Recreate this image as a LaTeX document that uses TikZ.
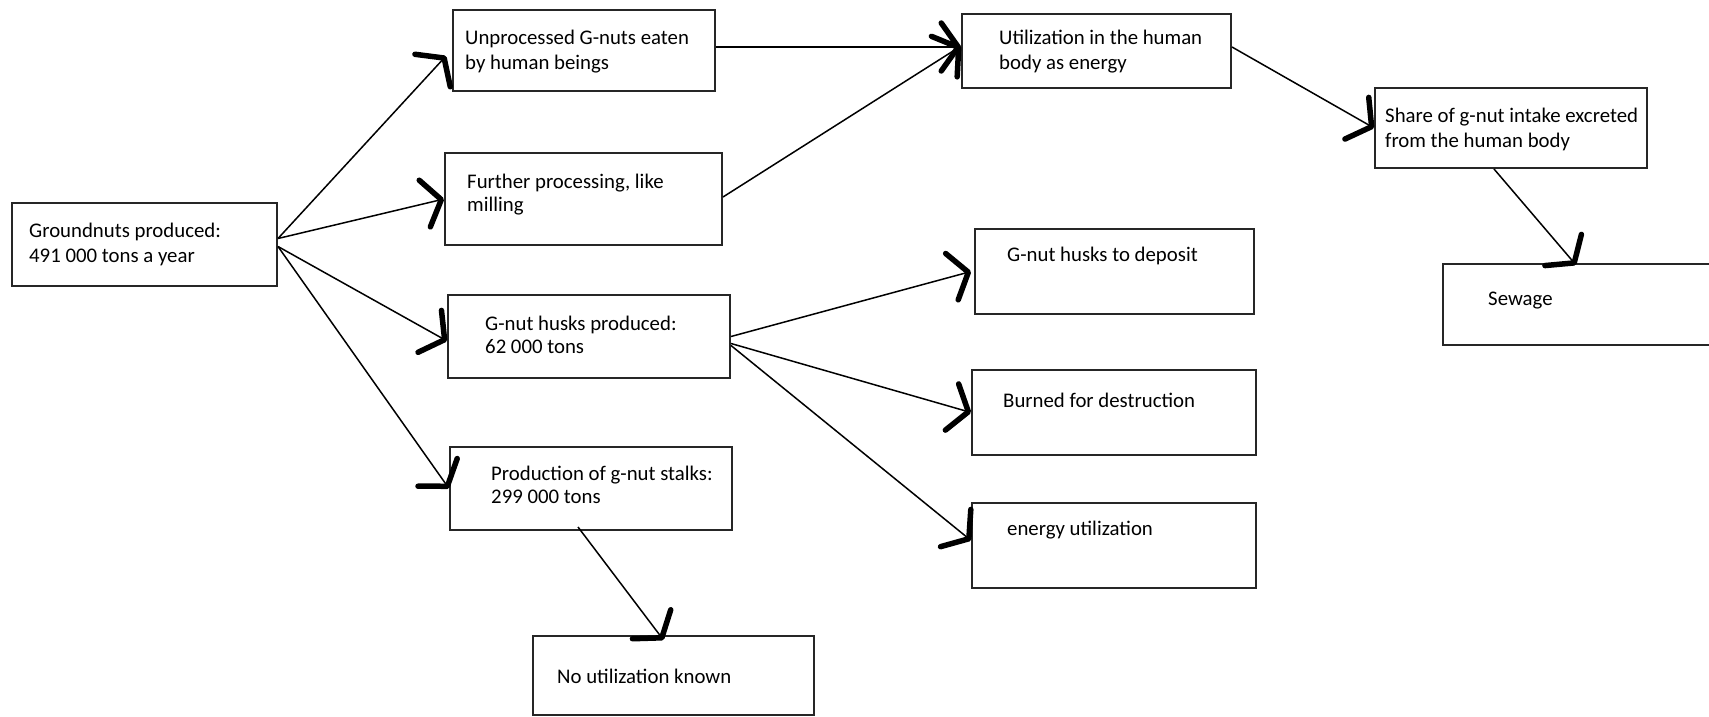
\documentclass[tikz,border=0pt]{standalone}
\usepackage{fontspec}
\setmainfont{Carlito}
\usetikzlibrary{arrows.meta}
\begin{document}
\begin{tikzpicture}[x=1pt,y=-1pt,
  box/.style={draw=black!85, line width=2pt, inner sep=0pt, anchor=north west},
  txt/.style={font=\fontsize{20.8}{25}\selectfont, align=left, inner sep=0pt, anchor=base west},
  tight/.style={font=\fontsize{20.8}{23}\selectfont},
  arr/.style={line width=1.5pt, -{Straight Barb[length=17pt, width=48pt, line width=5.5pt, round]}}]
\useasboundingbox (0,0) rectangle (1709,717);
\clip (0,0) rectangle (1709,717);
\fill[white] (0,0) rectangle (1709,717);

% boxes
\node[box, minimum width=265, minimum height=83] (gp) at (11,202) {};
\node[box, minimum width=262, minimum height=81] (un) at (452,9) {};
\node[box, minimum width=277, minimum height=92] (fp) at (444,152) {};
\node[box, minimum width=282, minimum height=83] (hp) at (447,294) {};
\node[box, minimum width=282, minimum height=83] (st) at (449,446) {};
\node[box, minimum width=281, minimum height=79] (nu) at (532,635) {};
\node[box, minimum width=269, minimum height=74] (ut) at (961,13) {};
\node[box, minimum width=272, minimum height=80] (sh) at (1374,87) {};
\node[box, minimum width=288, minimum height=81] (sw) at (1442,263) {};
\node[box, minimum width=279, minimum height=85] (dp) at (974,228) {};
\node[box, minimum width=284, minimum height=85] (bu) at (971,369) {};
\node[box, minimum width=284, minimum height=85] (eu) at (971,502) {};

% texts (the base anchor of a two-line node sits on its last line)
\node[txt] (gpt) at (29,262) {Groundnuts produced:\\491 000 tons a year};
\node[txt] (unt) at (465,70) {Unprocessed G-nuts eaten\\by human beings};
\node[txt, tight] (fpt) at (467,211) {Further processing, like\\milling};
\node[txt, tight] (hpt) at (485,353) {G-nut husks produced:\\62 000 tons};
\node[txt, tight] (stt) at (491,503) {Production of g-nut stalks:\\299 000 tons};
\node[txt] (nut) at (557,683) {No utilization known};
\node[txt] (utt) at (999,70) {Utilization in the human\\body as energy};
\node[txt] (sht) at (1385,147) {Share of g-nut intake excreted\\from the human body};
\node[txt] (swt) at (1488,305) {Sewage};
\node[txt] (dpt) at (1007,261) {G-nut husks to deposit};
\node[txt] (but) at (1003,407) {Burned for destruction};
\node[txt] (eut) at (1007,535) {energy utilization};

% connectors
\draw[arr] ([yshift=6pt]gp.east) -- ([xshift=-6pt,yshift=-5.5pt]un.west);
\draw[arr] ([yshift=6pt]gp.east) -- (fp.west);
\draw[arr] ([yshift=-2pt]gp.east) -- ([yshift=-4.5pt]hp.west);
\draw[arr] ([yshift=-2pt]gp.east) -- (st.west);
\draw[arr] ([yshift=3.5pt]un.east) -- ([yshift=3.5pt]un.east -| ut.west);
\draw[arr] ([yshift=2pt]fp.east) -- ([yshift=5pt]ut.west);
\draw[arr] ([yshift=4pt]ut.east) -- (sh.west);
\draw[arr] ([xshift=-17pt]sh.south) -- ([xshift=-11pt,yshift=-2pt]sw.north);
\draw[arr] (hp.east) -- ([xshift=-3pt]dp.west);
\draw[arr] ([yshift=-7pt]hp.east) -- (bu.west);
\draw[arr] ([yshift=-9pt]hp.east) -- ([yshift=5pt]eu.west);
\draw[arr] ([xshift=-13pt,yshift=4pt]st.south) -- ([xshift=-10pt,yshift=-5pt]nu.north);
\end{tikzpicture}
\end{document}
